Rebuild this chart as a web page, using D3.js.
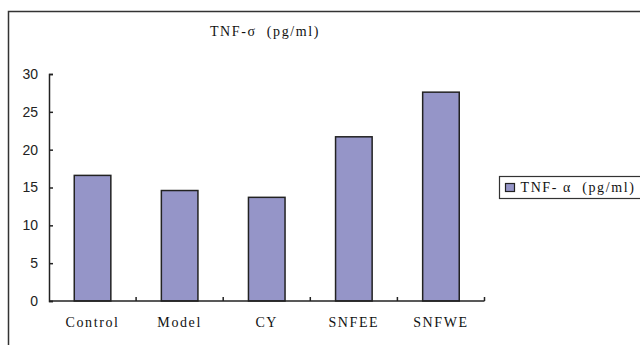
<!DOCTYPE html>
<html>
<head>
<meta charset="utf-8">
<script src="https://cdn.jsdelivr.net/npm/d3@7"></script>
<style>
  body { margin: 0; background: #fff; }
  .lbl { font-family: 'Liberation Serif', 'DejaVu Serif', serif; letter-spacing: 1.6px; }
</style>
</head>
<body>
<div id="chart"></div>
<script>
// values
const groups = ["Control", "Model", "CY", "SNFEE", "SNFWE"];
const tnfValues = [16.6, 14.6, 13.7, 21.7, 27.6];
const yTicks = [0, 5, 10, 15, 20, 25, 30];
const chartTitle = "TNF-\u03c3  (pg/ml)";
const seriesName = "TNF- \u03b1  (pg/ml)";

const width = 640;
const height = 345;
const margin = { top: 74, right: 155, bottom: 44, left: 49 };

const data = groups.map(function(g, i) { return { group: g, value: tnfValues[i] }; });

const svg = d3.select("#chart")
    .append("svg")
    .attr("width", width)
    .attr("height", height);

//outer chart frame (runs off the right and bottom edges)
svg.append("rect")
    .attr("x", 8.5)
    .attr("y", 11.5)
    .attr("width", width + 20)
    .attr("height", height + 20)
    .attr("fill", "none")
    .attr("stroke", "#333")
    .attr("stroke-width", 1.5);

const xScale = d3.scaleBand()
    .domain(groups)
    .range([margin.left, width - margin.right - 0.5]);

const yScale = d3.scaleLinear()
    .domain([0, 30])
    .range([height - margin.bottom, margin.top]);

const barWidth = xScale.bandwidth() * 0.42;

//bars
svg.selectAll("rect.bar")
    .data(data)
    .enter()
    .append("rect")
    .attr("class", "bar")
    .attr("x", function(d) { return xScale(d.group) + (xScale.bandwidth() - barWidth) / 2; })
    .attr("y", function(d) { return yScale(d.value); })
    .attr("width", barWidth)
    .attr("height", function(d) { return yScale(0) - yScale(d.value); })
    .attr("fill", "#9595c8")
    .attr("stroke", "#222")
    .attr("stroke-width", 1.5);

//y axis, ticks point inward
const yAxis = svg.append("g")
    .attr("transform", "translate(" + margin.left + ",0)")
    .call(d3.axisRight(yScale).tickValues(yTicks).tickSize(4).tickSizeOuter(4));
yAxis.select(".domain").attr("stroke", "#222").attr("stroke-width", 1.5);
yAxis.selectAll(".tick line").attr("stroke", "#222").attr("stroke-width", 1.5);
yAxis.selectAll("text")
    .attr("x", -11)
    .attr("text-anchor", "end")
    .style("font-family", "'Liberation Sans', Arial, sans-serif")
    .style("font-size", "14px")
    .attr("fill", "#222");

//x axis, small ticks up at the band edges
const x0 = yScale(0);
const xAxis = svg.append("g")
    .attr("transform", "translate(0," + x0 + ")");
xAxis.append("line")
    .attr("x1", margin.left)
    .attr("x2", xScale.range()[1])
    .attr("stroke", "#222")
    .attr("stroke-width", 1.5);
xAxis.selectAll("line.tick")
    .data(groups)
    .enter()
    .append("line")
    .attr("class", "tick")
    .attr("x1", function(d) { return xScale(d) + xScale.bandwidth(); })
    .attr("x2", function(d) { return xScale(d) + xScale.bandwidth(); })
    .attr("y1", 0)
    .attr("y2", -4)
    .attr("stroke", "#222")
    .attr("stroke-width", 1.5);
xAxis.selectAll("text")
    .data(groups)
    .enter()
    .append("text")
    .attr("class", "lbl")
    .attr("x", function(d) { return xScale(d) + xScale.bandwidth() / 2; })
    .attr("y", 26)
    .attr("text-anchor", "middle")
    .style("font-size", "14px")
    .attr("fill", "#111")
    .text(function(d) { return d; });

//title
svg.append("text")
    .attr("class", "lbl")
    .attr("x", 265)
    .attr("y", 36)
    .attr("text-anchor", "middle")
    .attr("xml:space", "preserve")
    .style("white-space", "pre")
    .style("font-size", "14px")
    .attr("fill", "#111")
    .text(chartTitle);

//legend
const legend = svg.append("g")
    .attr("transform", "translate(499.5,176.5)");
legend.append("rect")
    .attr("width", 160)
    .attr("height", 22)
    .attr("fill", "#fff")
    .attr("stroke", "#333")
    .attr("stroke-width", 1.2);
legend.append("rect")
    .attr("x", 6)
    .attr("y", 7)
    .attr("width", 9)
    .attr("height", 8)
    .attr("fill", "#9595c8")
    .attr("stroke", "#222")
    .attr("stroke-width", 1.2);
legend.append("text")
    .attr("class", "lbl")
    .attr("x", 21)
    .attr("y", 15.5)
    .attr("xml:space", "preserve")
    .style("white-space", "pre")
    .style("font-size", "14px")
    .attr("fill", "#111")
    .text(seriesName);
</script>
</body>
</html>
